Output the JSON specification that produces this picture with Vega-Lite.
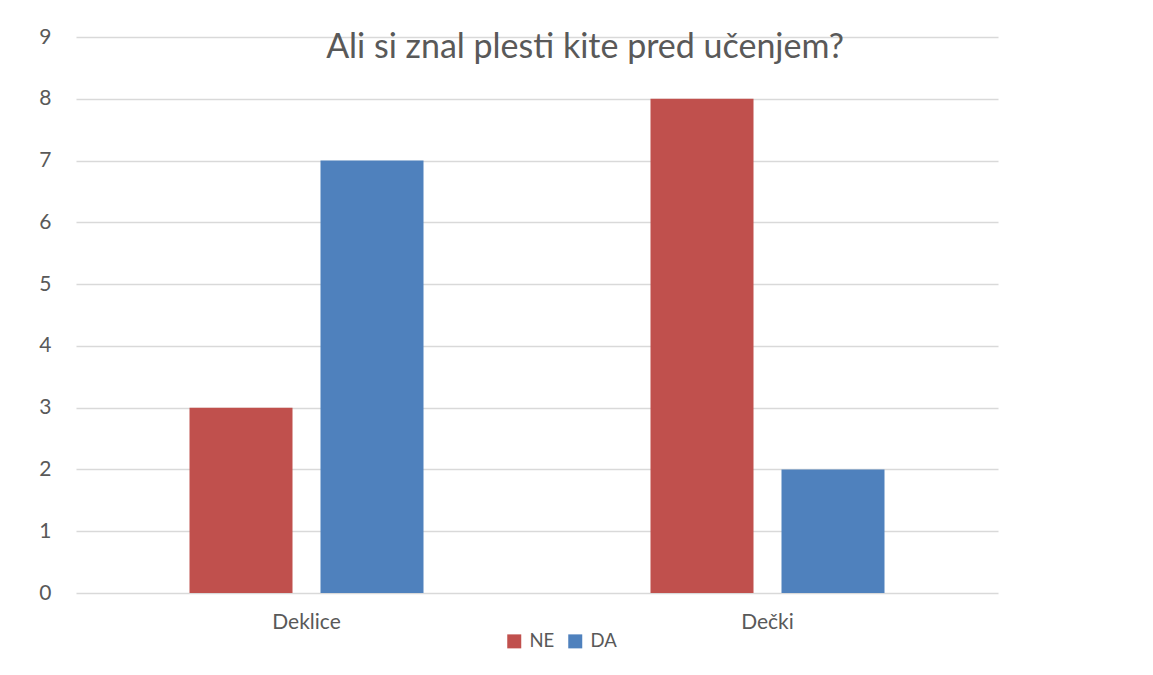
{
  "$schema": "https://vega.github.io/schema/vega-lite/v6.json",
  "width": 922,
  "height": 556,
  "autosize": {"type": "none"},
  "padding": {"left": 76, "top": 37, "right": 155, "bottom": 82},
  "background": "white",
  "title": {
    "text": "Ali si znal plesti kite pred učenjem?",
    "font": "Lato",
    "fontSize": 34,
    "fontWeight": "normal",
    "color": "#595959",
    "anchor": "middle",
    "frame": "group",
    "dx": 48,
    "dy": 40,
    "offset": -26,
    "baseline": "alphabetic"
  },
  "data": {
    "values": [
      {"group": "Deklice", "answer": "NE", "count": 3},
      {"group": "Deklice", "answer": "DA", "count": 7},
      {"group": "Dečki", "answer": "NE", "count": 8},
      {"group": "Dečki", "answer": "DA", "count": 2}
    ]
  },
  "mark": {"type": "bar"},
  "encoding": {
    "x": {
      "field": "group",
      "type": "nominal",
      "sort": ["Deklice", "Dečki"],
      "scale": {"paddingInner": 0.4924, "paddingOuter": 0.2462},
      "axis": {
        "title": null,
        "labelAngle": 0,
        "ticks": false,
        "domain": false,
        "labelFont": "Lato",
        "labelFontSize": 21,
        "labelColor": "#595959",
        "labelPadding": 18
      }
    },
    "xOffset": {
      "field": "answer",
      "type": "nominal",
      "sort": ["NE", "DA"],
      "scale": {"paddingInner": 0.2137, "paddingOuter": 0}
    },
    "y": {
      "field": "count",
      "type": "quantitative",
      "scale": {"domain": [0, 9]},
      "axis": {
        "title": null,
        "values": [0, 1, 2, 3, 4, 5, 6, 7, 8, 9],
        "ticks": false,
        "domain": false,
        "gridColor": "#D9D9D9",
        "gridWidth": 1.5,
        "labelFont": "Lato",
        "labelFontSize": 21,
        "labelColor": "#595959",
        "labelPadding": 25
      }
    },
    "color": {
      "field": "answer",
      "type": "nominal",
      "sort": ["NE", "DA"],
      "scale": {"domain": ["NE", "DA"], "range": ["#C0504D", "#4F81BD"]},
      "legend": {
        "title": null,
        "orient": "none",
        "direction": "horizontal",
        "legendX": 429,
        "legendY": 595,
        "symbolType": "square",
        "symbolSize": 196,
        "symbolStrokeWidth": 0,
        "symbolOpacity": 1,
        "labelFont": "Lato",
        "labelFontSize": 18.5,
        "labelColor": "#595959",
        "labelOffset": 6,
        "columnPadding": 11,
        "padding": 0
      }
    }
  },
  "config": {"view": {"stroke": null}}
}
